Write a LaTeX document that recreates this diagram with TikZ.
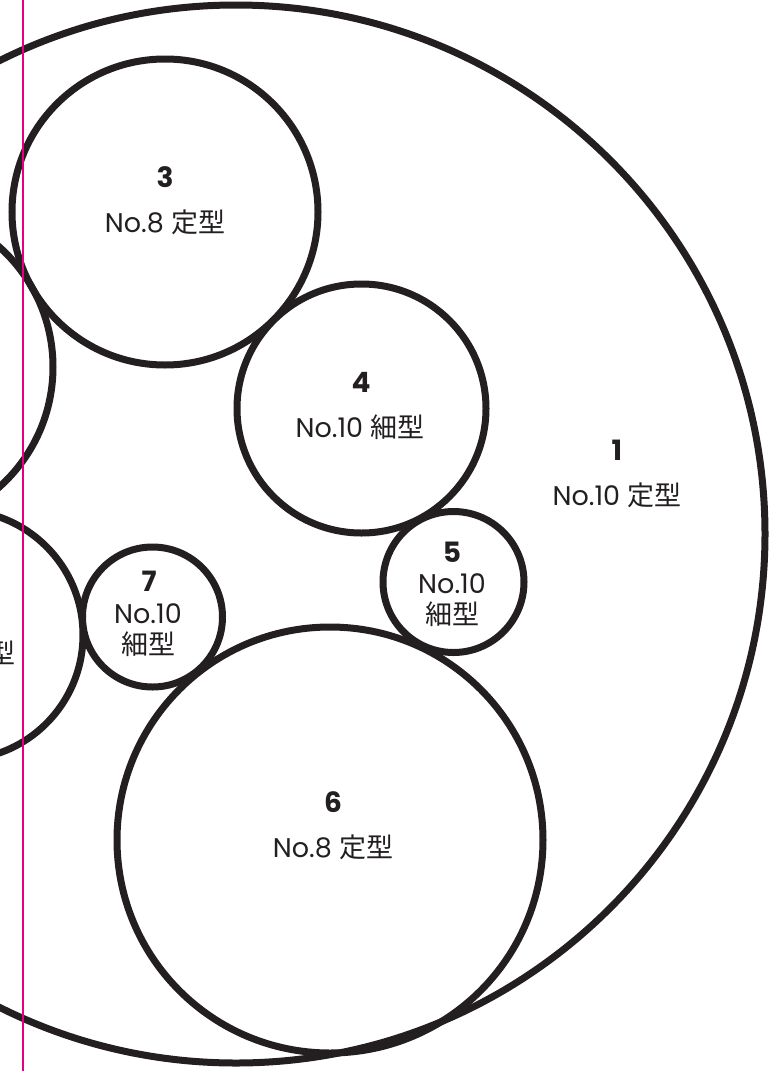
\documentclass[tikz,border=0pt]{standalone}
\usepackage{fontspec}
\setmainfont{Poppins}
\newfontfamily\jpfont{Noto Sans CJK JP}
\definecolor{ink}{HTML}{231F20}
\definecolor{guide}{HTML}{E4007F}
\tikzset{ring/.style={draw=ink,line width=7pt,circle,inner sep=0pt},
         num/.style={text=ink,inner sep=0pt,font=\fontsize{28}{30}\selectfont\bfseries},
         spec/.style={text=ink,inner sep=0pt,align=center,font=\fontsize{27}{31}\selectfont},
         guideline/.style={draw=guide,line width=2pt},
        }

\begin{document}
\begin{tikzpicture}[x=1pt,y=-1pt]
        \useasboundingbox(0,0)rectangle(769,1071);
        \clip(0,0)rectangle(769,1071);

        % circles
        \node[ring,minimum size=1058pt](c1)at(236,534){};
        \node[ring,minimum size=322pt](c2)at(-108,367){};
        \node[ring,minimum size=306pt](c3)at(165,212){};
        \node[ring,minimum size=249pt](c4)at(361.5,408.5){};
        \node[ring,minimum size=141pt](c5)at(453.5,582){};
        \node[ring,minimum size=426pt](c6)at(330,840){};
        \node[ring,minimum size=140pt](c7)at(152.5,617){};
        \node[ring,minimum size=250pt](c8)at(-42,635){};

        % labels
        \node[num](n1)at(617,450){1};
        \node[spec](s1)at(617,495){No.10 {\jpfont 定型}};
        \node[num](n3)at(165,177){3};
        \node[spec](s3)at(165,222){No.8 {\jpfont 定型}};
        \node[num](n4)at(361,382){4};
        \node[spec](s4)at(360,427){No.10 {\jpfont 細型}};
        \node[num](n5)at(452,552){5};
        \node[spec](s5)at(452,600){No.10\\{\jpfont 細型}};
        \node[num](n7)at(149,581){7};
        \node[spec](s7)at(148,630){No.10\\{\jpfont 細型}};
        \node[num](n6)at(333,802){6};
        \node[spec](s6)at(333,847){No.8 {\jpfont 定型}};
        \node[spec,anchor=east](s8)at(15.5,653){\jpfont 型};

        % guide
        \coordinate(gtop)at(22.7,0);
        \coordinate(gbot)at(22.7,1071);
        \draw[guideline](gtop)--(gbot);
\end{tikzpicture}
\end{document}
